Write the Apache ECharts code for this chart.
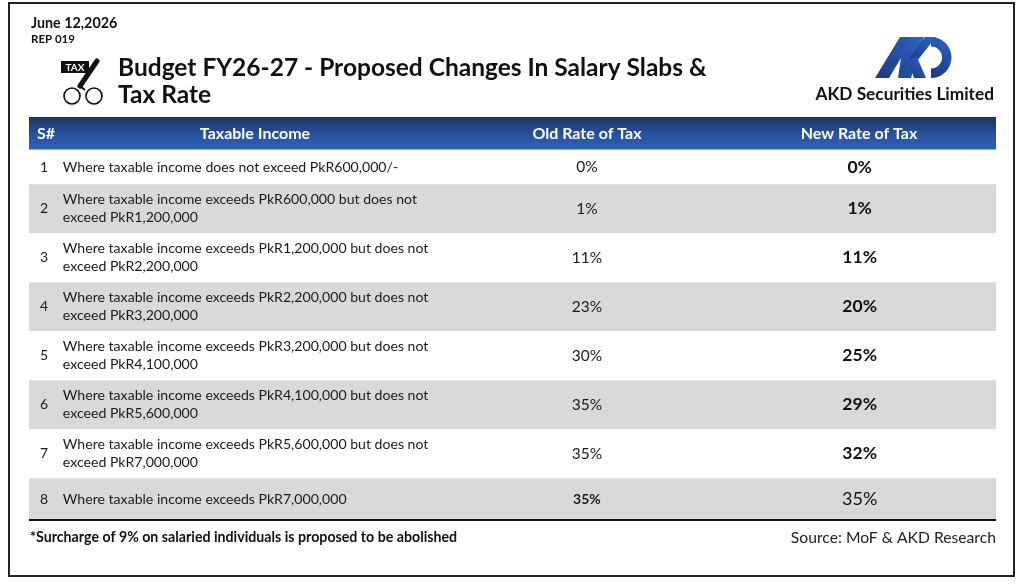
<!DOCTYPE html>
<html>
<head>
<meta charset="utf-8">
<script src="https://cdn.jsdelivr.net/npm/echarts@6/dist/echarts.min.js"></script>
<style>html,body{margin:0;padding:0;background:#fff;}#c{width:1024px;height:586px;}</style>
</head>
<body>
<div id="c"></div>
<script>
// ---- data ----
const columns = ["S#", "Taxable Income", "Old Rate of Tax", "New Rate of Tax"];
const rowNo = [1, 2, 3, 4, 5, 6, 7, 8];
const incomeText = [
  "Where taxable income does not exceed PkR600,000/-",
  "Where taxable income exceeds PkR600,000 but does not\nexceed PkR1,200,000",
  "Where taxable income exceeds PkR1,200,000 but does not\nexceed PkR2,200,000",
  "Where taxable income exceeds PkR2,200,000 but does not\nexceed PkR3,200,000",
  "Where taxable income exceeds PkR3,200,000 but does not\nexceed PkR4,100,000",
  "Where taxable income exceeds PkR4,100,000 but does not\nexceed PkR5,600,000",
  "Where taxable income exceeds PkR5,600,000 but does not\nexceed PkR7,000,000",
  "Where taxable income exceeds PkR7,000,000"
];
const oldRate = [0, 1, 11, 23, 30, 35, 35, 35];
const newRate = [0, 1, 11, 20, 25, 29, 32, 35];
const dateText = "June 12,2026";
const repText = "REP 019";
const titleLines = ["Budget FY26-27 - Proposed Changes In Salary Slabs &", "Tax Rate"];
const companyName = "AKD Securities Limited";
const footNote = "*Surcharge of 9% on salaried individuals is proposed to be abolished";
const sourceText = "Source: MoF & AKD Research";

// ---- layout helpers (row extents from line counts) ----
const weights = incomeText.map((t, i) => t.split("\n").length === 1 ? (i === 0 ? 0.7 : 0.85) : 1);
const starts = [];
weights.reduce((acc, w, i) => { starts[i] = acc; return acc + w; }, 0);
const total = weights.reduce((a, b) => a + b, 0);

const FONT = "Lato, 'Open Sans', sans-serif";
const colX = { no: 0.0155, text: 0.035, old: 0.577, nw: 0.859 };

const chart = echarts.init(document.getElementById('c'), null, { renderer: 'canvas' });

function renderItem(params, api) {
  const i = api.value(0);
  const y0 = starts[i], y1 = starts[i] + weights[i], yc = (y0 + y1) / 2;
  const tl = api.coord([0, y0]);
  const br = api.coord([1, y1]);
  const last = i === rowNo.length - 1;
  const children = [];
  children.push({
    type: 'rect',
    shape: { x: tl[0], y: tl[1], width: br[0] - tl[0], height: br[1] - tl[1] },
    style: { fill: i % 2 === 1 ? '#d9d9d9' : '#ffffff' }
  });
  const pNo = api.coord([colX.no, yc]);
  const pTx = api.coord([colX.text, yc]);
  const pOld = api.coord([colX.old, yc]);
  const pNew = api.coord([colX.nw, yc]);
  children.push({
    type: 'text', x: pNo[0], y: pNo[1],
    style: { text: String(rowNo[i]), fill: '#1a1a1a', font: '14px ' + FONT, align: 'center', verticalAlign: 'middle' }
  });
  children.push({
    type: 'text', x: pTx[0], y: pTx[1],
    style: { text: incomeText[i], fill: '#1a1a1a', font: '14.1px ' + FONT, align: 'left', verticalAlign: 'middle', lineHeight: 18 }
  });
  children.push({
    type: 'text', x: pOld[0], y: pOld[1],
    style: { text: oldRate[i] + '%', fill: '#1a1a1a', font: (last ? 'bold 14px ' : '15.5px ') + FONT, align: 'center', verticalAlign: 'middle' }
  });
  children.push({
    type: 'text', x: pNew[0], y: pNew[1],
    style: { text: newRate[i] + '%', fill: '#111', font: (last ? '18px ' : 'bold 17.5px ') + FONT, align: 'center', verticalAlign: 'middle' }
  });
  if (last) {
    children.push({
      type: 'line',
      shape: { x1: tl[0], y1: br[1], x2: br[0], y2: br[1] },
      style: { stroke: '#111', lineWidth: 2 }
    });
  }
  return { type: 'group', children };
}

const headerGrad = new echarts.graphic.LinearGradient(0, 0, 0, 1, [
  { offset: 0, color: '#1c335e' },
  { offset: 0.55, color: '#2853a0' },
  { offset: 1, color: '#2e62b8' }
]);
function logoGrad() {
  return new echarts.graphic.LinearGradient(0, 1, 1, 0, [
    { offset: 0, color: '#1c3a7c' },
    { offset: 1, color: '#2f63c6' }
  ]);
}

const headerCenters = [null, 255, 587, 859];

const option = {
  animation: false,
  backgroundColor: '#ffffff',
  grid: { left: 29, right: 28, top: 150, bottom: 66 },
  xAxis: { type: 'value', min: 0, max: 1, show: false },
  yAxis: { type: 'value', min: 0, max: total, inverse: true, show: false },
  series: [{
    type: 'custom',
    renderItem: renderItem,
    data: rowNo.map((n, i) => [i]),
    encode: { x: -1, y: 0 },
    clip: false,
    silent: true
  }],
  graphic: [
    // outer frame
    { type: 'rect', shape: { x: 9, y: 3, width: 1005, height: 573 }, style: { fill: 'none', stroke: '#222', lineWidth: 2 }, z: 10 },
    // date / rep
    { type: 'text', x: 31, y: 23, style: { text: dateText, font: 'bold 14.3px ' + FONT, fill: '#111', verticalAlign: 'middle' } },
    { type: 'text', x: 31, y: 39, style: { text: repText, font: 'bold 11.5px ' + FONT, fill: '#111', verticalAlign: 'middle' } },
    // title
    { type: 'text', x: 118, y: 68, style: { text: titleLines[0], font: 'bold 24.5px ' + FONT, fill: '#111', verticalAlign: 'middle' } },
    { type: 'text', x: 118, y: 95, style: { text: titleLines[1], font: 'bold 24.5px ' + FONT, fill: '#111', verticalAlign: 'middle' } },
    // tax icon
    { type: 'rect', shape: { x: 61, y: 61, width: 28, height: 12 }, style: { fill: '#111' } },
    { type: 'text', x: 75, y: 67.5, style: { text: 'TAX', font: 'bold 10px ' + FONT, fill: '#fff', align: 'center', verticalAlign: 'middle' } },
    { type: 'line', shape: { x1: 97, y1: 61, x2: 80, y2: 86 }, style: { stroke: '#111', lineWidth: 5, lineCap: 'round' } },
    { type: 'line', shape: { x1: 80, y1: 86, x2: 85, y2: 90 }, style: { stroke: '#111', lineWidth: 2 } },
    { type: 'circle', shape: { cx: 72, cy: 96, r: 8 }, style: { fill: 'none', stroke: '#111', lineWidth: 1.6 } },
    { type: 'circle', shape: { cx: 94, cy: 96, r: 8 }, style: { fill: 'none', stroke: '#111', lineWidth: 1.6 } },
    // AKD logo (stylised shapes)
    { type: 'polygon', shape: { points: [[875, 78], [889, 78], [901, 58], [898, 78], [911, 78], [924, 37], [900, 37]] }, style: { fill: logoGrad() } },
    { type: 'polygon', shape: { points: [[909, 59], [925, 37], [936, 37], [917, 61]] }, style: { fill: logoGrad() } },
    { type: 'polygon', shape: { points: [[908, 60], [917, 57], [926, 78], [914, 78]] }, style: { fill: logoGrad() } },
    { type: 'sector', shape: { cx: 931, cy: 57.5, r0: 11, r: 20.5, startAngle: -Math.PI / 2, endAngle: Math.PI / 2, clockwise: true }, style: { fill: logoGrad() } },
    { type: 'text', x: 994, y: 94, style: { text: companyName, font: 'bold 17.3px ' + FONT, fill: '#111', align: 'right', verticalAlign: 'middle' } },
    // header bar
    { type: 'rect', shape: { x: 29, y: 117, width: 967, height: 33 }, style: { fill: headerGrad } },
    { type: 'line', shape: { x1: 29, y1: 149.5, x2: 996, y2: 149.5 }, style: { stroke: '#8fb0e0', lineWidth: 1 } },
    { type: 'text', x: 37, y: 134, style: { text: columns[0], font: 'bold 16px ' + FONT, fill: '#fff', verticalAlign: 'middle' } },
    { type: 'text', x: headerCenters[1], y: 134, style: { text: columns[1], font: 'bold 16px ' + FONT, fill: '#fff', align: 'center', verticalAlign: 'middle' } },
    { type: 'text', x: headerCenters[2], y: 134, style: { text: columns[2], font: 'bold 16px ' + FONT, fill: '#fff', align: 'center', verticalAlign: 'middle' } },
    { type: 'text', x: headerCenters[3], y: 134, style: { text: columns[3], font: 'bold 16px ' + FONT, fill: '#fff', align: 'center', verticalAlign: 'middle' } },
    // footer
    { type: 'text', x: 30, y: 537, style: { text: footNote, font: 'bold 14.2px ' + FONT, fill: '#111', verticalAlign: 'middle' } },
    { type: 'text', x: 996, y: 538, style: { text: sourceText, font: '15.7px ' + FONT, fill: '#222', align: 'right', verticalAlign: 'middle' } }
  ]
};
chart.setOption(option);
</script>
</body>
</html>
